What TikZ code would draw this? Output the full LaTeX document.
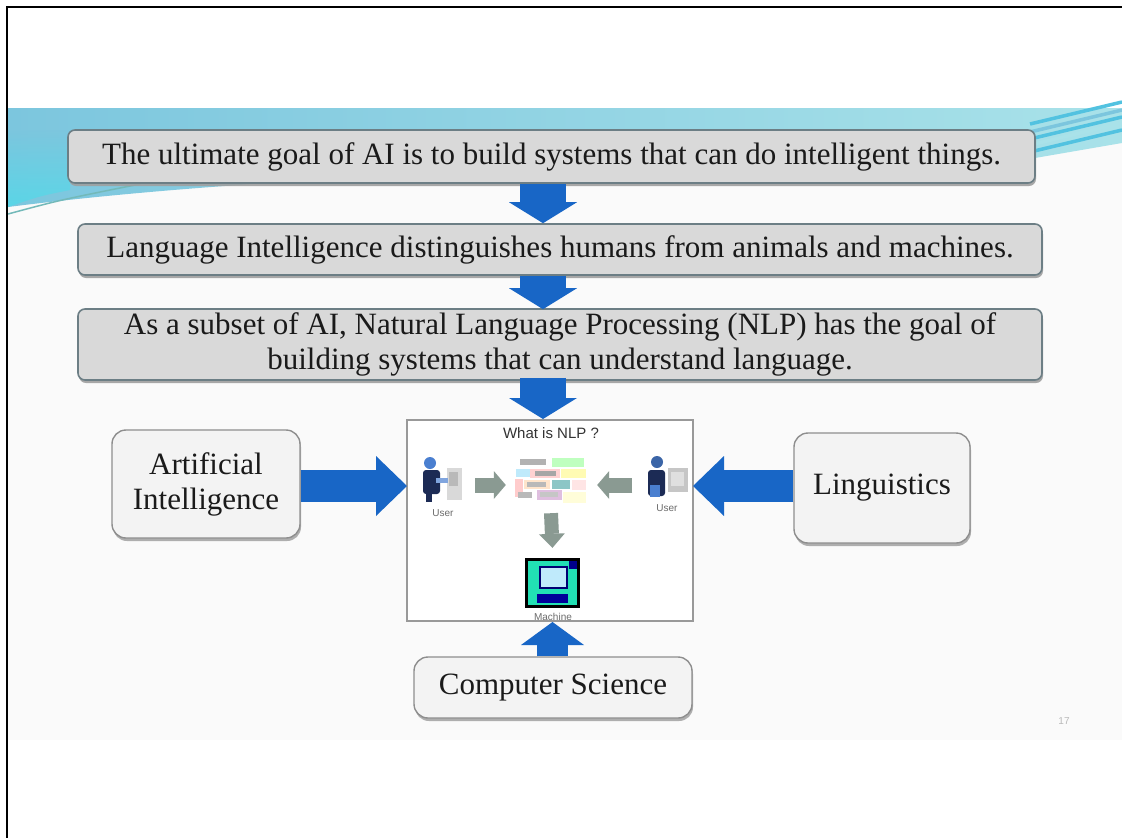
\documentclass[tikz,border=0pt]{standalone}
\usepackage{fontspec}
\setmainfont{Liberation Serif}
\newfontfamily\uisans{Liberation Sans}
\usetikzlibrary{arrows.meta,shadows,calc}

\definecolor{slidebg}{HTML}{FAFAFA}
\definecolor{bandA}{HTML}{7CC6DE}
\definecolor{bandB}{HTML}{A9E2E9}
\definecolor{streak}{HTML}{52C2E0}
\definecolor{blockblue}{HTML}{1866C6}
\definecolor{greyfill}{HTML}{D9D9D9}
\definecolor{greyedge}{HTML}{6C7E85}
\definecolor{sidefill}{HTML}{F3F3F3}
\definecolor{sideedge}{HTML}{8E8E8E}
\definecolor{inkdark}{HTML}{1A1A1A}
\definecolor{mutedarrow}{HTML}{8A9A92}
\definecolor{navyfig}{HTML}{1C2B55}
\definecolor{headblue}{HTML}{4A7FD0}
\definecolor{pcgreen}{HTML}{22E0B4}

\tikzset{
  mainfont/.style={font=\fontsize{31}{35}\selectfont, text=inkdark},
  greybox/.style={mainfont, draw=greyedge, line width=1.6pt, fill=greyfill,
    rounded corners=7pt, inner sep=0pt, align=center,
    drop shadow={shadow xshift=1pt, shadow yshift=-3pt, fill=gray!75, opacity=0.9}},
  sidebox/.style={mainfont, draw=sideedge, line width=1.4pt, fill=sidefill,
    rounded corners=14pt, inner sep=0pt, align=center,
    drop shadow={shadow xshift=1pt, shadow yshift=-3pt, fill=gray!70, opacity=0.9}},
  downflow/.style={draw=blockblue, line width=46pt,
    -{Triangle[width=68pt, length=21pt, line width=0pt]}},
  sideflow/.style={draw=blockblue, line width=32pt,
    -{Triangle[width=60pt, length=31pt, line width=0pt]}},
  upflow/.style={draw=blockblue, line width=31pt,
    -{Triangle[width=63pt, length=23pt, line width=0pt]}},
  mutedflow/.style={draw=mutedarrow, line width=15pt,
    -{Triangle[width=28pt, length=12pt, line width=0pt]}},
  iconbox/.style={inner sep=0pt, minimum width=#1},
  smalllabel/.style={font=\uisans\fontsize{10}{12}\selectfont, text=gray!85!black, inner sep=0pt},
}

\begin{document}
\begin{tikzpicture}[x=1pt, y=-1pt]
\useasboundingbox (0,0) rectangle (1122,838);
\fill[white] (0,0) rectangle (1122,838);

% slide background
\fill[slidebg] (8,108) rectangle (1122,740);

% blue band across the top of the slide
\shade[left color=bandA, right color=bandB]
  (8,108) -- (1122,108) -- (1122,143) -- (1035,158)
  .. controls (700,164) and (300,170) .. (8,207) -- cycle;
\shade[top color=bandA, bottom color=cyan!45!bandA, opacity=0.6]
  (8,130) -- (70,130) -- (70,190) .. controls (40,196) .. (8,207) -- cycle;
\draw[teal!55, line width=1.5pt] (8,214) .. controls (60,200) .. (140,184);
\foreach \dy/\c in {0/streak, 7/bandB, 13/streak, 20/bandA, 28/streak}
  \draw[\c, line width=3.5pt] (1030,152-\dy) -- (1122,130-\dy);

% frame edges of the page
\draw[black, line width=1.5pt] (7,838) -- (7,7) -- (1122,7);

% statement boxes
\node[greybox, minimum width=967pt, minimum height=53pt] (b1) at (551.5,156.5)
  {The ultimate goal of AI is to build systems that can do intelligent things.};
\node[greybox, minimum width=964pt, minimum height=51pt] (b2) at (560,249.5)
  {Language Intelligence distinguishes humans from animals and machines.};
\node[greybox, minimum width=964pt, minimum height=71pt] (b3) at (560,344.5)
  {As a subset of AI, Natural Language Processing (NLP) has the goal of\\
   building systems that can understand language.};

% central picture frame
\node[draw=gray!80, line width=2pt, fill=white, minimum width=286pt,
  minimum height=201pt, inner sep=0pt] (frame) at (550,520.5) {};
\node[font=\uisans\fontsize{15}{18}\selectfont, text=black!80, inner sep=0pt]
  (ttl) at (551,433) {What is NLP ?};

% side boxes
\node[sidebox, minimum width=188pt, minimum height=108pt] (ai) at (206,484)
  {Artificial\\Intelligence};
\node[sidebox, minimum width=176pt, minimum height=110pt] (ling) at (882,488)
  {Linguistics};
\node[sidebox, minimum width=278pt, minimum height=61pt] (cs) at (553,687.5)
  {Computer Science};

% page number
\node[font=\uisans\fontsize{10}{12}\selectfont, text=gray!55] (pg) at (1064,721) {17};

% flow arrows
\coordinate (vaxis) at (543,0);
\coordinate (haxis) at (0,486);
\draw[downflow] (b1.south -| vaxis) -- (b2.north -| vaxis);
\draw[downflow] (b2.south -| vaxis) -- ([yshift=-1pt]b3.north -| vaxis);
\draw[downflow] ([yshift=3pt]b3.south -| vaxis) -- (frame.north -| vaxis);
\draw[sideflow] (ai.east |- haxis) -- ([xshift=1pt]frame.west |- haxis);
\draw[sideflow] (ling.west |- haxis) -- ([xshift=-1pt]frame.east |- haxis);
\draw[upflow] (cs.north -| 552.5,0) -- (frame.south -| 552.5,0);

% icons inside the picture
\node[iconbox=40pt, minimum height=45pt] (userL) at (442,480) {};
\node[iconbox=43pt, minimum height=43pt] (userR) at (666,479) {};
\node[iconbox=72pt, minimum height=48pt] (txt) at (551,481) {};
\node[iconbox=55pt, minimum height=50pt] (pc) at (552.5,583) {};

% left user at a terminal
\fill[gray!30] (447,468) rectangle (462,500);
\fill[gray!55] (449,472) rectangle (458,486);
\fill[navyfig, rounded corners=3pt] (423,470) rectangle (440,494);
\fill[navyfig] (426,494) rectangle (432,502);
\fill[headblue] (430,463) circle (6);
\fill[headblue!70] (436,478) rectangle (448,483);
\node[smalllabel] (ulabL) at (443,513) {User};

% right user at a terminal
\fill[gray!45] (668,468) rectangle (688,492);
\fill[gray!25] (671,472) rectangle (684,486);
\fill[navyfig, rounded corners=3pt] (648,470) rectangle (665,496);
\fill[headblue!80!black] (657,462) circle (6);
\fill[headblue] (650,485) rectangle (660,497);
\node[smalllabel] (ulabR) at (667,508) {User};

% multilingual text sample
\fill[gray!60] (520,459) rectangle (546,465);
\fill[green!25] (552,458) rectangle (584,467);
\fill[cyan!25] (516,469) rectangle (530,477);
\fill[pink!70] (530,469) rectangle (560,478);
\fill[gray!70] (535,471) rectangle (556,476);
\fill[yellow!30] (561,469) rectangle (586,478);
\fill[pink!80] (515,479) rectangle (523,497);
\fill[orange!20] (524,480) rectangle (550,489);
\fill[gray!55] (527,482) rectangle (546,487);
\fill[teal!45] (552,480) rectangle (570,489);
\fill[pink!40] (572,480) rectangle (586,490);
\fill[gray!55] (518,492) rectangle (532,498);
\fill[violet!25] (537,490) rectangle (562,500);
\fill[gray!45] (540,492) rectangle (558,497);
\fill[yellow!15] (563,492) rectangle (586,503);

% computer
\fill[black] (525,558) rectangle (580,608);
\fill[pcgreen] (528,561) rectangle (577,605);
\fill[blue!55!black] (569,561) rectangle (577,569);
\fill[blue!45!black] (539,566) rectangle (568,589);
\fill[cyan!25] (541,568) rectangle (566,587);
\fill[blue!60!black] (537,594) rectangle (568,603);
\node[smalllabel] (pclab) at (553,617) {Machine};

% grey arrows between the icons
\draw[mutedflow] ([shift={(13,5)}]userL.east) -- ([shift={(-9,4)}]txt.west);
\draw[mutedflow] ([shift={(-12,6)}]userR.west) -- ([shift={(10,4)}]txt.east);
\draw[mutedflow, line width=14pt, -{Triangle[width=26pt, length=14pt, line width=0pt]}]
  ([yshift=-8pt]txt.south) -- ([yshift=10pt]pc.north);
\end{tikzpicture}
\end{document}
